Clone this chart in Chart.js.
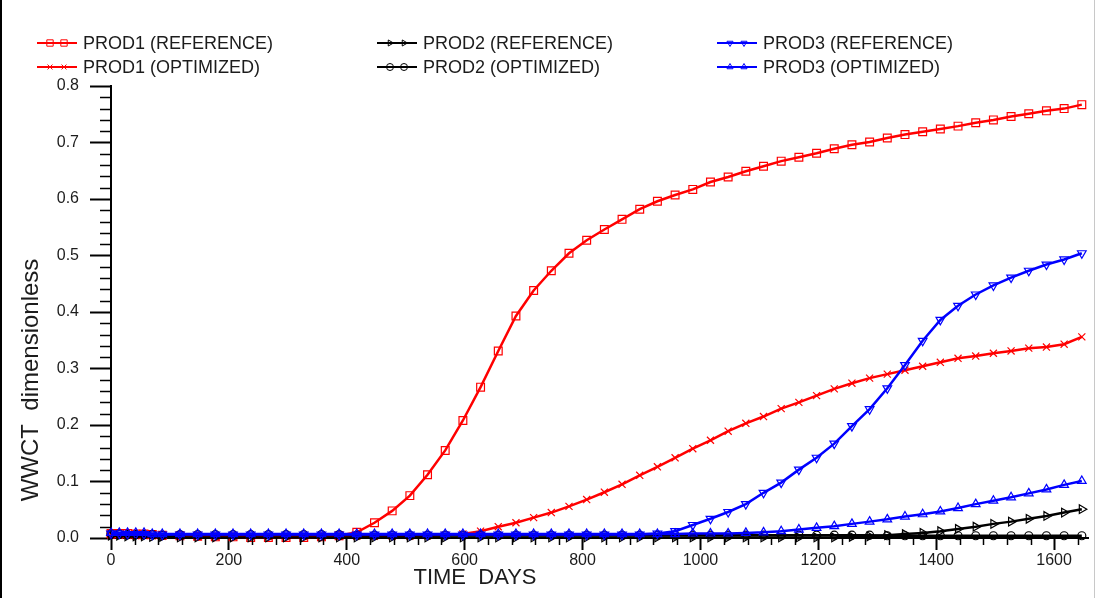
<!DOCTYPE html>
<html>
<head>
<meta charset="utf-8">
<script src="https://cdn.jsdelivr.net/npm/chart.js@4.4.0/dist/chart.umd.min.js"></script>
<style>
    html, body { margin: 0; padding: 0; background: #fff; }
    canvas { display: block; }
</style>
</head>
<body>
<canvas id="chart" width="1095" height="598"></canvas>
<script>
// report times (days)
const days = [0, 14, 28, 42, 56, 70, 87, 117, 147, 177, 207, 237, 267, 297, 327, 357, 387, 417, 447, 477,
    507, 537, 567, 597, 627, 657, 687, 717, 747, 777, 807, 837, 867, 897, 927, 957, 987, 1017, 1047, 1077,
    1107, 1137, 1167, 1197, 1227, 1257, 1287, 1317, 1347, 1377, 1407, 1437, 1467, 1497, 1527, 1557, 1587, 1617, 1647];

// WWCT values
const prod1Ref = [0.008, 0.008, 0.008, 0.007, 0.007, 0.006, 0.005, 0.004, 0.003, 0.002,
    0.002, 0.001, 0.001, 0.001, 0.001, 0.002, 0.004,
    0.010, 0.027, 0.048, 0.075, 0.112, 0.155, 0.208, 0.267, 0.331, 0.393, 0.438, 0.473, 0.504,
    0.527, 0.546, 0.564, 0.582, 0.596, 0.607, 0.617, 0.630, 0.639, 0.649, 0.658, 0.667, 0.674,
    0.681, 0.689, 0.696, 0.701, 0.708, 0.714, 0.719, 0.724, 0.729, 0.735, 0.740, 0.746, 0.751,
    0.756, 0.760, 0.767];
const prod1Opt = [0.005, 0.005, 0.005, 0.004, 0.004, 0.004,
    0.003, 0.003, 0.003, 0.003, 0.003, 0.003, 0.003, 0.003, 0.003, 0.003, 0.003, 0.003, 0.003, 0.003, 0.003,
    0.004, 0.005, 0.007,
    0.012, 0.020, 0.027, 0.036, 0.045, 0.056, 0.068, 0.081, 0.095, 0.111, 0.126, 0.142, 0.158, 0.173,
    0.189, 0.203, 0.215, 0.229, 0.240, 0.252, 0.264,
    0.274, 0.283, 0.290, 0.297, 0.304, 0.311, 0.318, 0.322, 0.327, 0.331, 0.336, 0.338, 0.343, 0.356];
const prod2Ref = [0.004, 0.004, 0.003, 0.003, 0.003, 0.002, 0.002,
    0.001, 0.001, 0.001, 0.001, 0.001, 0.001, 0.001, 0.001, 0.001, 0.001,
    0.001, 0.001, 0.001, 0.001, 0.001, 0.001, 0.001, 0.001, 0.001, 0.001,
    0.001, 0.001, 0.001, 0.001, 0.001, 0.001, 0.001, 0.001, 0.001, 0.001,
    0.001, 0.001, 0.001, 0.001, 0.001, 0.001, 0.001, 0.001,
    0.002, 0.003, 0.005,
    0.007, 0.009, 0.012, 0.016, 0.020, 0.025, 0.029, 0.034, 0.039, 0.045, 0.051];
const prod2Opt = [0.007, 0.007, 0.006, 0.006, 0.006, 0.006, 0.005,
    0.006, 0.006, 0.006, 0.006, 0.006, 0.006, 0.006, 0.006, 0.006, 0.006,
    0.005, 0.005, 0.005, 0.005, 0.005, 0.005, 0.005, 0.005, 0.005, 0.005,
    0.005, 0.005, 0.005, 0.005, 0.005, 0.005, 0.005, 0.005, 0.005, 0.005,
    0.005, 0.005, 0.005, 0.005, 0.005, 0.005, 0.005, 0.005, 0.005, 0.005,
    0.004, 0.004, 0.004, 0.004, 0.004, 0.004, 0.004, 0.004, 0.004, 0.004,
    0.004, 0.004];
const prod3Ref = [0.008, 0.008, 0.007, 0.007, 0.007,
    0.006, 0.006, 0.006, 0.006, 0.006, 0.006, 0.006, 0.006, 0.006, 0.006,
    0.006, 0.006, 0.006, 0.006, 0.006, 0.006, 0.006, 0.006, 0.006, 0.006,
    0.006, 0.006, 0.006, 0.006, 0.006, 0.006, 0.006, 0.006, 0.006,
    0.008, 0.012, 0.023, 0.034, 0.046, 0.060, 0.080, 0.098, 0.121, 0.142, 0.167,
    0.198, 0.228, 0.265, 0.306, 0.349, 0.386, 0.411, 0.431, 0.447, 0.461, 0.473, 0.484, 0.493, 0.504];
const prod3Opt = [0.009, 0.009, 0.009, 0.009, 0.009,
    0.007, 0.007, 0.007, 0.007, 0.007, 0.007, 0.007, 0.007, 0.007, 0.007,
    0.007, 0.007, 0.007, 0.007, 0.007, 0.007, 0.007, 0.007, 0.007, 0.007,
    0.007, 0.007, 0.007, 0.007, 0.007, 0.007, 0.007, 0.007, 0.007, 0.007,
    0.007,
    0.008, 0.008, 0.008, 0.009,
    0.010, 0.012, 0.015, 0.018, 0.021, 0.025, 0.029, 0.033, 0.038, 0.042,
    0.047, 0.053, 0.060, 0.066, 0.072, 0.079, 0.086, 0.094, 0.101];

const seriesNames = ["PROD1 (REFERENCE)", "PROD1 (OPTIMIZED)", "PROD2 (REFERENCE)",
    "PROD2 (OPTIMIZED)", "PROD3 (REFERENCE)", "PROD3 (OPTIMIZED)"];
const xTicks = [0, 200, 400, 600, 800, 1000, 1200, 1400, 1600];
const yTicks = [0, 0.1, 0.2, 0.3, 0.4, 0.5, 0.6, 0.7, 0.8];

const FONT = "'Liberation Sans', Arial, sans-serif";
const TEXT = "#1c1c1c";

function toXY(vals) {
    return vals.map((v, i) => ({ x: days[i], y: v }));
}

function serie(label, vals, color, style, rot, radius, order) {
    return {
        label: label,
        data: toXY(vals),
        borderColor: color,
        borderWidth: 2.5,
        pointStyle: style,
        rotation: rot,
        pointRadius: radius,
        pointBorderWidth: 1.2,
        pointBorderColor: color,
        pointBackgroundColor: "rgba(0,0,0,0)",
        tension: 0,
        clip: false,
        order: order
    };
}

const datasets = [
    serie(seriesNames[0], prod1Ref, "#ff0000", "rect", 0, 5.5, 5),
    serie(seriesNames[1], prod1Opt, "#ff0000", "crossRot", 0, 5, 4),
    serie(seriesNames[2], prod2Ref, "#000000", "triangle", 90, 5, 3),
    serie(seriesNames[3], prod2Opt, "#000000", "circle", 0, 4, 2),
    serie(seriesNames[4], prod3Ref, "#0000ff", "triangle", 180, 5, 1),
    serie(seriesNames[5], prod3Opt, "#0000ff", "triangle", 0, 5, 0)
];

// minor ticks, legend, axis titles, frame
const decor = {
    id: "decor",
    afterDraw(chart) {
        const ctx = chart.ctx;
        const x = chart.scales.x;
        const y = chart.scales.y;
        const area = chart.chartArea;
        ctx.save();

        ctx.strokeStyle = "#000";
        ctx.lineWidth = 1.5;
        for (let v = 40; v < x.max; v += 40) {
            if (v % 200 === 0) continue;
            const px = Math.round(x.getPixelForValue(v)) + 0.5;
            ctx.beginPath();
            ctx.moveTo(px, area.bottom);
            ctx.lineTo(px, area.bottom + 7);
            ctx.stroke();
        }
        for (let k = 1; k < 40; k++) {
            if (k % 5 === 0) continue;
            const py = Math.round(y.getPixelForValue(k * 0.02)) + 0.5;
            if (py < area.top - 1) continue;
            ctx.beginPath();
            ctx.moveTo(area.left - 11, py);
            ctx.lineTo(area.left, py);
            ctx.stroke();
        }

        // legend: 3 columns (wells), 2 rows (reference / optimized)
        const colX = [37, 377, 717];
        const rowY = [43, 67];
        ctx.font = "18px " + FONT;
        ctx.textBaseline = "middle";
        ctx.textAlign = "left";
        chart.data.datasets.forEach((ds, i) => {
            const lx = colX[Math.floor(i / 2)];
            const ly = rowY[i % 2];
            ctx.strokeStyle = ds.borderColor;
            ctx.lineWidth = 2;
            ctx.beginPath();
            ctx.moveTo(lx, ly);
            ctx.lineTo(lx + 40, ly);
            ctx.stroke();
            ctx.lineWidth = 1;
            ctx.fillStyle = "rgba(0,0,0,0)";
            [lx + 13, lx + 27].forEach(mx => {
                Chart.helpers.drawPoint(ctx, {
                    pointStyle: ds.pointStyle,
                    rotation: ds.rotation,
                    radius: ds.pointStyle === "rect" ? 4.5 : 3.5,
                    borderWidth: 1
                }, mx, ly);
            });
            ctx.fillStyle = TEXT;
            ctx.fillText(ds.label, lx + 46, ly + 1);
        });

        // axis titles
        ctx.fillStyle = TEXT;
        ctx.font = "22px " + FONT;
        ctx.textAlign = "center";
        ctx.fillText("TIME  DAYS", 475, 578);
        ctx.save();
        ctx.translate(31, 380);
        ctx.rotate(-Math.PI / 2);
        ctx.font = "24px " + FONT;
        ctx.fillText("WWCT  dimensionless", 0, 0);
        ctx.restore();

        // frame
        ctx.strokeStyle = "#000";
        ctx.lineWidth = 2;
        ctx.beginPath();
        ctx.moveTo(1, 0);
        ctx.lineTo(1, chart.height);
        ctx.stroke();
        ctx.strokeStyle = "#c8c8c8";
        ctx.lineWidth = 1;
        ctx.beginPath();
        ctx.moveTo(1094.5, 0);
        ctx.lineTo(1094.5, chart.height);
        ctx.stroke();
        ctx.restore();
    }
};

new Chart(document.getElementById("chart"), {
    type: "line",
    data: { datasets: datasets },
    options: {
        responsive: false,
        animation: false,
        layout: { padding: { top: 86, right: 1, left: 0, bottom: 0 } },
        plugins: { legend: { display: false }, title: { display: false }, tooltip: { enabled: false } },
        scales: {
            x: {
                type: "linear",
                min: 0,
                max: 1658,
                afterFit: s => { s.height = 60; },
                afterBuildTicks: s => { s.ticks = xTicks.map(v => ({ value: v })); },
                ticks: {
                    autoSkip: false,
                    maxRotation: 0,
                    padding: 1,
                    color: TEXT,
                    font: { family: FONT, size: 16 },
                    callback: v => String(v)
                },
                grid: { display: true, drawOnChartArea: false, tickLength: 12, tickWidth: 2, tickColor: "#000" },
                border: { display: true, color: "#000", width: 2 }
            },
            y: {
                min: 0,
                max: 0.8,
                afterFit: s => { s.width = 111; },
                afterBuildTicks: s => { s.ticks = yTicks.map(v => ({ value: v })); },
                ticks: {
                    padding: 11,
                    color: TEXT,
                    font: { family: FONT, size: 16 },
                    callback: v => v.toFixed(1)
                },
                grid: { display: true, drawOnChartArea: false, tickLength: 21, tickWidth: 2, tickColor: "#000" },
                border: { display: true, color: "#000", width: 2 }
            }
        }
    },
    plugins: [decor]
});
</script>
</body>
</html>
